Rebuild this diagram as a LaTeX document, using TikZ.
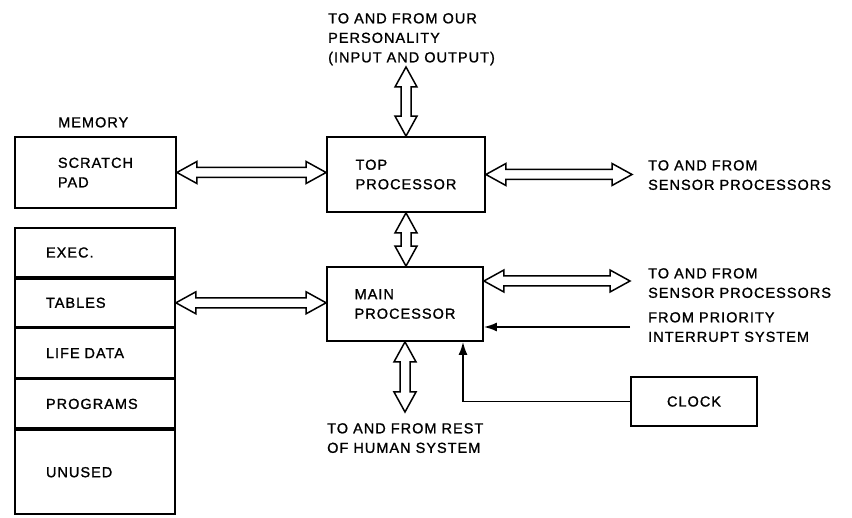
\documentclass[tikz,border=0pt]{standalone}
\usepackage{fontspec}
\setmainfont{Liberation Sans}[LetterSpace=7, FakeBold=1.2]
\usetikzlibrary{arrows.meta,positioning,calc}

\begin{document}
\begin{tikzpicture}[x=1pt, y=-1pt,
  every node/.style={font=\fontsize{14.5pt}{19.5pt}\selectfont},
  box/.style={draw, line width=1.8pt, align=left, inner sep=0pt},
  cell/.style={draw, line width=1.8pt, minimum width=160pt, minimum height=49pt, text width=98pt, align=left, inner sep=0pt},
  lbl/.style={anchor=north west, align=left, inner sep=0pt},
  arr/.style={-{Latex[length=13pt, width=9pt]}, line width=1.7pt},
  bus/.style={line width=1.5pt, line join=miter, to path={
    -- ($(\tikztostart)!20pt!(\tikztotarget)!11pt!90:(\tikztotarget)$)
    -- ($(\tikztostart)!20pt!(\tikztotarget)!5pt!90:(\tikztotarget)$)
    -- ($(\tikztotarget)!20pt!(\tikztostart)!5pt!-90:(\tikztostart)$)
    -- ($(\tikztotarget)!20pt!(\tikztostart)!11pt!-90:(\tikztostart)$)
    -- (\tikztotarget)
    -- ($(\tikztotarget)!20pt!(\tikztostart)!11pt!90:(\tikztostart)$)
    -- ($(\tikztotarget)!20pt!(\tikztostart)!5pt!90:(\tikztostart)$)
    -- ($(\tikztostart)!20pt!(\tikztotarget)!5pt!-90:(\tikztotarget)$)
    -- ($(\tikztostart)!20pt!(\tikztotarget)!11pt!-90:(\tikztotarget)$)
    -- cycle}},
  node distance=0pt
]
\useasboundingbox (0,0) rectangle (852,518);

% memory
\node[lbl] (memlbl) at (58,117) {MEMORY};
\node[box, minimum width=161pt, minimum height=71pt] (scratch) at (95.5,172.5) {SCRATCH\\PAD};
\node[cell] (exec) at (95,252.5) {EXEC.};
\node[cell, minimum height=48pt, below=of exec] (tables) {TABLES};
\node[cell, below=of tables] (life) {LIFE DATA};
\node[cell, below=of life] (progs) {PROGRAMS};
\node[cell, minimum height=84pt, below=of progs] (unused) {UNUSED};

% processors
\node[box, minimum width=158pt, minimum height=75pt] (toproc) at (406,174.5) {TOP\\PROCESSOR};
\node[box, minimum width=156pt, minimum height=74pt] (mainp) at (405,304) {MAIN\\PROCESSOR};
\node[box, minimum width=126pt, minimum height=49pt] (clock) at (694,401.5) {CLOCK};

% outside labels
\node[lbl] (personalbl) at (328,13) {TO AND FROM OUR\\PERSONALITY\\(INPUT AND OUTPUT)};
\node[lbl] (sens1lbl) at (648,160) {TO AND FROM\\SENSOR PROCESSORS};
\node[lbl] (sens2lbl) at (648,268) {TO AND FROM\\SENSOR PROCESSORS};
\node[lbl] (intlbl) at (648,312) {FROM PRIORITY\\INTERRUPT SYSTEM};
\node[lbl] (restlbl) at (327,423) {TO AND FROM REST\\OF HUMAN SYSTEM};

\coordinate (persona) at (406,67);
\coordinate (sens1) at (632,174.5);
\coordinate (sens2) at (630,281);
\coordinate (intsrc) at (630,327);
\coordinate (rest) at (405,412);

% buses
\draw[bus] (toproc.north) to (persona);
\draw[bus] (toproc.south) to (toproc.south |- mainp.north);
\draw[bus] (mainp.south) to (rest);
\draw[bus] (scratch.east) to (scratch.east -| toproc.west);
\draw[bus] (tables.east) to (tables.east -| mainp.west);
\draw[bus] (toproc.east) to (sens1);
\draw[bus] (mainp.east |- sens2) to (sens2);

% signals
\draw[arr] (intsrc) -- (intsrc -| mainp.east);
\draw[arr] (clock.west) -| ([xshift=58pt]mainp.south);
\end{tikzpicture}
\end{document}
